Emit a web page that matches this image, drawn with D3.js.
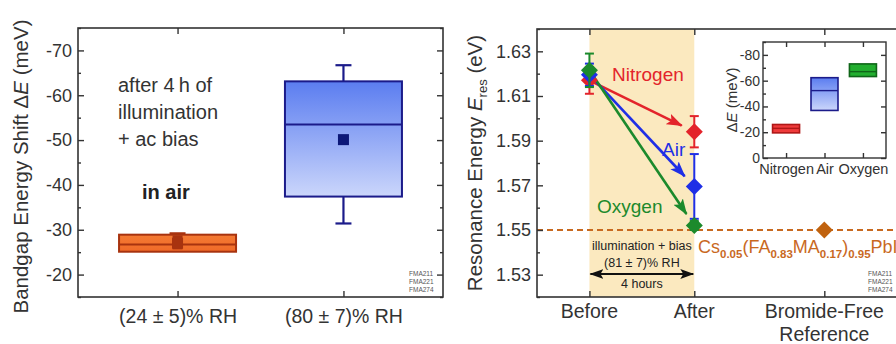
<!DOCTYPE html>
<html>
<head>
<meta charset="utf-8">
<script src="https://cdn.jsdelivr.net/npm/d3@7"></script>
<style>
  body { margin: 0; background: #fff; }
  svg { display: block; font-family: "Liberation Sans", Arial, sans-serif; }
</style>
</head>
<body>
<svg width="896" height="344"></svg>
<script>
// ---- left panel: bandgap shift box plots (meV)
const humidity = ["(24 ± 5)% RH", "(80 ± 7)% RH"];
const boxLow = [-25.1, -37.4];
const boxHigh = [-28.9, -63.1];
const boxMedian = [-26.7, -53.5];
const boxMean = [-27.0, -50.1];
const whiskLow = [-25.4, -31.4];
const whiskHigh = [-29.2, -66.7];
const leftTicks = [-70, -60, -50, -40, -30, -20];
const leftMinor = [-75, -65, -55, -45, -35, -25, -15];

// ---- right panel: resonance energy (eV)
const gases = ["Nitrogen", "Air", "Oxygen"];
const stages = ["Before", "After", "Bromide-Free"];
const stagePos = [1, 2, 3.24];
const eBefore = [1.617, 1.6195, 1.6215];
const errBefore = [0.006, 0.005, 0.0075];
const eAfter = [1.594, 1.5695, 1.552];
const errAfter = [0.007, 0.0145, 0.002];
const refEnergy = 1.550;
const rightTicks = [1.53, 1.55, 1.57, 1.59, 1.61, 1.63];
const rightMinor = [1.52, 1.54, 1.56, 1.58, 1.60, 1.62, 1.64];

// ---- inset: shift per gas (meV)
const insetLow = [-19.5, -36.9, -63.2];
const insetHigh = [-26.0, -62.3, -73.0];
const insetMedian = [-23.0, -52.3, -67.0];
const insetTicks = [0, -20, -40, -60, -80];
const insetMinor = [-10, -30, -50, -70, -90];

const gasColor = ["#e3242b", "#1f2fe6", "#1c8a2c"];
const ink = "#333";
const FONT = "Liberation Sans, Arial, sans-serif";

const svg = d3.select("svg");
const defs = svg.append("defs");

const blueGrad = defs.append("linearGradient").attr("id", "blueGrad")
  .attr("x1", 0).attr("y1", 0).attr("x2", 0).attr("y2", 1);
blueGrad.append("stop").attr("offset", "0%").attr("stop-color", "#5b7df0");
blueGrad.append("stop").attr("offset", "100%").attr("stop-color", "#cbd6fb");

const orangeGrad = defs.append("linearGradient").attr("id", "orangeGrad")
  .attr("x1", 0).attr("y1", 0).attr("x2", 0).attr("y2", 1);
orangeGrad.append("stop").attr("offset", "0%").attr("stop-color", "#f47a33");
orangeGrad.append("stop").attr("offset", "100%").attr("stop-color", "#f06a28");

function arrowMarker(id, color, w, h) {
  defs.append("marker").attr("id", id)
    .attr("markerUnits", "userSpaceOnUse")
    .attr("viewBox", "0 0 14 10")
    .attr("markerWidth", w).attr("markerHeight", h)
    .attr("refX", 13).attr("refY", 5)
    .attr("orient", "auto-start-reverse")
    .append("path").attr("d", "M0,0L14,5L0,10L3,5Z").attr("fill", color);
}
gasColor.forEach((c, i) => arrowMarker("arr" + i, c, 16, 12));
arrowMarker("arrK", "#111", 14, 10);

const diamond = s => `M0,${-s}L${s},0L0,${s}L${-s},0Z`;

// styles an axis group: no domain, our font, inward ticks
function styleAxis(g, size) {
  g.attr("font-family", FONT).attr("font-size", size).attr("color", ink);
  g.select(".domain").remove();
  g.selectAll(".tick line").attr("stroke-width", 1.4);
}

// ================= LEFT PANEL =================
const L = { left: 78, right: 443, top: 28, bottom: 297 };
const xL = d3.scalePoint().domain(humidity).range([L.left, L.right]).padding(0.6);
const yL = d3.scaleLinear().domain([-15, -75]).range([L.bottom, L.top]);

svg.append("g").attr("transform", `translate(${L.left},0)`)
  .call(d3.axisLeft(yL).tickValues(leftTicks).tickSize(-6).tickPadding(6).tickFormat(d => d))
  .call(g => styleAxis(g, 18));
svg.append("g").attr("transform", `translate(${L.left},0)`)
  .call(d3.axisLeft(yL).tickValues(leftMinor).tickSize(-3).tickFormat(""))
  .call(g => styleAxis(g, 18));
svg.append("g").attr("transform", `translate(${L.right},0)`)
  .call(d3.axisRight(yL).tickValues(leftTicks).tickSize(-6).tickFormat(""))
  .call(g => styleAxis(g, 18));
svg.append("g").attr("transform", `translate(${L.right},0)`)
  .call(d3.axisRight(yL).tickValues(leftMinor).tickSize(-3).tickFormat(""))
  .call(g => styleAxis(g, 18));
svg.append("g").attr("transform", `translate(0,${L.bottom})`)
  .call(d3.axisBottom(xL).tickSize(-6).tickPadding(12))
  .call(g => styleAxis(g, 19.5));
svg.append("g").attr("transform", `translate(0,${L.top})`)
  .call(d3.axisTop(xL).tickSize(-6).tickFormat(""))
  .call(g => styleAxis(g, 18));

svg.append("rect")
  .attr("x", L.left).attr("y", L.top)
  .attr("width", L.right - L.left).attr("height", L.bottom - L.top)
  .attr("fill", "none").attr("stroke", ink).attr("stroke-width", 1.6);

const boxStroke = ["#a8330f", "#1b1b8a"];
const boxFill = ["url(#orangeGrad)", "url(#blueGrad)"];
const boxW = 117;

humidity.forEach((h, i) => {
  const cx = xL(h);
  const g = svg.append("g");
  // whiskers
  g.append("line").attr("x1", cx).attr("x2", cx)
    .attr("y1", yL(whiskLow[i])).attr("y2", yL(boxLow[i]))
    .attr("stroke", boxStroke[i]).attr("stroke-width", 2.2);
  g.append("line").attr("x1", cx).attr("x2", cx)
    .attr("y1", yL(whiskHigh[i])).attr("y2", yL(boxHigh[i]))
    .attr("stroke", boxStroke[i]).attr("stroke-width", 2.2);
  [whiskLow[i], whiskHigh[i]].forEach(v => {
    g.append("line").attr("x1", cx - 8).attr("x2", cx + 8)
      .attr("y1", yL(v)).attr("y2", yL(v))
      .attr("stroke", boxStroke[i]).attr("stroke-width", 2.2);
  });
  g.append("rect")
    .attr("x", cx - boxW / 2).attr("width", boxW)
    .attr("y", yL(boxHigh[i])).attr("height", yL(boxLow[i]) - yL(boxHigh[i]))
    .attr("fill", boxFill[i]).attr("stroke", boxStroke[i]).attr("stroke-width", 2);
  g.append("line")
    .attr("x1", cx - boxW / 2).attr("x2", cx + boxW / 2)
    .attr("y1", yL(boxMedian[i])).attr("y2", yL(boxMedian[i]))
    .attr("stroke", boxStroke[i]).attr("stroke-width", 2);
  g.append("rect")
    .attr("x", cx - 5.5).attr("y", yL(boxMean[i]) - 5.5)
    .attr("width", 11).attr("height", 11)
    .attr("fill", i === 0 ? "#a8330f" : "#0c1878");
});
// orange mean marker is drawn taller in the original (covers whisker)
svg.append("rect")
  .attr("x", xL(humidity[0]) - 5).attr("y", yL(whiskHigh[0]) + 2)
  .attr("width", 10).attr("height", yL(whiskLow[0]) - yL(whiskHigh[0]) - 3)
  .attr("fill", "#a8330f");

svg.append("text")
  .attr("transform", `translate(28,${(L.top + L.bottom) / 2 + 4}) rotate(-90)`)
  .attr("text-anchor", "middle").attr("font-size", 20.5).attr("fill", ink)
  .call(t => {
    t.append("tspan").text("Bandgap Energy Shift \u0394");
    t.append("tspan").attr("font-style", "italic").text("E");
    t.append("tspan").text(" (meV)");
  });

const note = ["after 4\u2009h of", "illumination", "+ ac bias"];
svg.append("g").selectAll("text").data(note).join("text")
  .attr("x", 118).attr("y", (d, i) => 92 + i * 27)
  .attr("font-size", 20).attr("fill", ink).text(d => d);
svg.append("text").attr("x", 142).attr("y", 199)
  .attr("font-size", 20).attr("font-weight", "bold").attr("fill", "#222").text("in air");

const samples = ["FMA211", "FMA221", "FMA274"];
[409, 868].forEach(x => {
  svg.append("g").selectAll("text").data(samples).join("text")
    .attr("x", x).attr("y", (d, i) => 276 + i * 8)
    .attr("font-size", 6.5).attr("fill", "#555").text(d => d);
});

// ================= RIGHT PANEL =================
const R = { left: 537, right: 904, top: 29, bottom: 297 };
const xR = d3.scaleLinear().domain([0.5, 4]).range([R.left, R.right]);
const yR = d3.scaleLinear().domain([1.52, 1.64]).range([R.bottom, R.top]);

// shaded treatment window
svg.append("rect")
  .attr("x", xR(stagePos[0])).attr("width", xR(stagePos[1]) - xR(stagePos[0]))
  .attr("y", R.top).attr("height", R.bottom - R.top)
  .attr("fill", "#fbe9bf");

// bromide-free reference line
svg.append("line")
  .attr("x1", R.left).attr("x2", R.right)
  .attr("y1", yR(refEnergy)).attr("y2", yR(refEnergy))
  .attr("stroke", "#c8691f").attr("stroke-width", 2).attr("stroke-dasharray", "6,4");

svg.append("g").attr("transform", `translate(${R.left},0)`)
  .call(d3.axisLeft(yR).tickValues(rightTicks).tickSize(-6).tickPadding(6).tickFormat(d3.format(".2f")))
  .call(g => styleAxis(g, 18));
svg.append("g").attr("transform", `translate(${R.left},0)`)
  .call(d3.axisLeft(yR).tickValues(rightMinor).tickSize(-3).tickFormat(""))
  .call(g => styleAxis(g, 18));
svg.append("g").attr("transform", `translate(0,${R.bottom})`)
  .call(d3.axisBottom(xR).tickValues(stagePos).tickSize(-6).tickFormat(""))
  .call(g => styleAxis(g, 18));
svg.append("g").attr("transform", `translate(0,${R.top})`)
  .call(d3.axisTop(xR).tickValues(stagePos).tickSize(-6).tickFormat(""))
  .call(g => styleAxis(g, 18));

svg.append("rect")
  .attr("x", R.left).attr("y", R.top)
  .attr("width", R.right - R.left).attr("height", R.bottom - R.top)
  .attr("fill", "none").attr("stroke", ink).attr("stroke-width", 1.6);

// stage labels
const stageLab = svg.append("g").attr("font-size", 19.5).attr("fill", ink).attr("text-anchor", "middle");
stages.forEach((s, i) => {
  const t = stageLab.append("text").attr("x", xR(stagePos[i])).attr("y", 318);
  if (s === "Bromide-Free") {
    t.append("tspan").text(s);
    t.append("tspan").attr("x", xR(stagePos[i])).attr("dy", 23).text("Reference");
  } else t.text(s);
});

svg.append("text")
  .attr("transform", `translate(482,${(R.top + R.bottom) / 2}) rotate(-90)`)
  .attr("text-anchor", "middle").attr("font-size", 20.5).attr("fill", ink)
  .call(t => {
    t.append("tspan").text("Resonance Energy ");
    t.append("tspan").attr("font-style", "italic").text("E");
    t.append("tspan").attr("font-size", 13).attr("dy", 5).text("res");
    t.append("tspan").attr("dy", -5).text(" (eV)");
  });

// arrows between before and after
gases.forEach((g, i) => {
  const x1 = xR(stagePos[0]), y1 = yR(eBefore[i]);
  const x2 = xR(stagePos[1]), y2 = yR(eAfter[i]);
  const len = Math.hypot(x2 - x1, y2 - y1);
  const ux = (x2 - x1) / len, uy = (y2 - y1) / len;
  svg.append("line")
    .attr("x1", x1 + ux * 5).attr("y1", y1 + uy * 5)
    .attr("x2", x2 - ux * 14).attr("y2", y2 - uy * 14)
    .attr("stroke", gasColor[i]).attr("stroke-width", 2.6)
    .attr("marker-end", `url(#arr${i})`);
});

// error bars and diamonds
function point(x, v, err, color) {
  const g = svg.append("g");
  if (err > 0) {
    g.append("line").attr("x1", x).attr("x2", x)
      .attr("y1", yR(v - err)).attr("y2", yR(v + err))
      .attr("stroke", color).attr("stroke-width", 2);
    [v - err, v + err].forEach(e => {
      g.append("line").attr("x1", x - 4.5).attr("x2", x + 4.5)
        .attr("y1", yR(e)).attr("y2", yR(e))
        .attr("stroke", color).attr("stroke-width", 2);
    });
  }
  g.append("path").attr("d", diamond(8.5))
    .attr("transform", `translate(${x},${yR(v)})`).attr("fill", color);
}
gases.forEach((g, i) => point(xR(stagePos[0]), eBefore[i], errBefore[i], gasColor[i]));
gases.forEach((g, i) => point(xR(stagePos[1]), eAfter[i], errAfter[i], gasColor[i]));
point(xR(stagePos[2]), refEnergy, 0, "#c0620e");

// gas labels
const gasLabelPos = [[612, 81], [662, 156], [597, 213]];
gases.forEach((g, i) => {
  svg.append("text").attr("x", gasLabelPos[i][0]).attr("y", gasLabelPos[i][1])
    .attr("font-size", 19).attr("fill", gasColor[i]).text(g);
});

// treatment annotation
const midX = (xR(stagePos[0]) + xR(stagePos[1])) / 2;
svg.append("g").attr("font-size", 12.5).attr("fill", "#222").attr("text-anchor", "middle")
  .selectAll("text").data([["illumination + bias", 250], ["(81 \u00b1 7)% RH", 267], ["4 hours", 288]])
  .join("text").attr("x", midX).attr("y", d => d[1]).text(d => d[0]);
svg.append("line")
  .attr("x1", xR(stagePos[0]) + 1).attr("x2", xR(stagePos[1]) - 1)
  .attr("y1", 274).attr("y2", 274)
  .attr("stroke", "#111").attr("stroke-width", 1.8)
  .attr("marker-start", "url(#arrK)").attr("marker-end", "url(#arrK)");

// reference composition (runs off the right edge, as in the original)
svg.append("text").attr("x", 698).attr("y", 253)
  .attr("font-size", 18).attr("fill", "#c9691f")
  .call(t => {
    const parts = [["Cs", 0], ["0.05", 1], ["(FA", 0], ["0.83", 1], ["MA", 0], ["0.17", 1], [")", 0], ["0.95", 1], ["PbI", 0], ["3", 1]];
    let sub = false;
    parts.forEach(([s, isSub]) => {
      const sp = t.append("tspan").text(s);
      if (isSub) sp.attr("font-size", 11.5).attr("font-weight", "bold");
      if (isSub && !sub) sp.attr("dy", 5);
      if (!isSub && sub) sp.attr("dy", -5);
      sub = !!isSub;
    });
  });

// ================= INSET =================
const I = { left: 763, right: 886, top: 42, bottom: 158 };
const xI = d3.scalePoint().domain(gases).range([I.left, I.right]).padding(0.6);
const yI = d3.scaleLinear().domain([0, -90]).range([I.bottom, I.top]);

svg.append("rect")
  .attr("x", I.left).attr("y", I.top)
  .attr("width", I.right - I.left).attr("height", I.bottom - I.top)
  .attr("fill", "#fff");

svg.append("g").attr("transform", `translate(${I.left},0)`)
  .call(d3.axisLeft(yI).tickValues(insetTicks).tickSize(-5).tickPadding(3).tickFormat(d => d))
  .call(g => styleAxis(g, 14));
svg.append("g").attr("transform", `translate(${I.left},0)`)
  .call(d3.axisLeft(yI).tickValues(insetMinor).tickSize(-3).tickFormat(""))
  .call(g => styleAxis(g, 14));
svg.append("g").attr("transform", `translate(${I.right},0)`)
  .call(d3.axisRight(yI).tickValues(insetTicks).tickSize(-5).tickFormat(""))
  .call(g => styleAxis(g, 14));
svg.append("g").attr("transform", `translate(0,${I.bottom})`)
  .call(d3.axisBottom(xI).tickSize(-5).tickPadding(6))
  .call(g => styleAxis(g, 14.5));
svg.append("g").attr("transform", `translate(0,${I.top})`)
  .call(d3.axisTop(xI).tickSize(-5).tickFormat(""))
  .call(g => styleAxis(g, 14));

svg.append("rect")
  .attr("x", I.left).attr("y", I.top)
  .attr("width", I.right - I.left).attr("height", I.bottom - I.top)
  .attr("fill", "none").attr("stroke", ink).attr("stroke-width", 1.4);

const insetFill = ["#ef3b3b", "url(#blueGrad)", "#22ae2f"];
const insetStroke = ["#b01717", "#1b1b8a", "#0f6518"];
gases.forEach((g, i) => {
  const cx = xI(g);
  svg.append("rect")
    .attr("x", cx - 13.5).attr("width", 27)
    .attr("y", yI(insetHigh[i])).attr("height", yI(insetLow[i]) - yI(insetHigh[i]))
    .attr("fill", insetFill[i]).attr("stroke", insetStroke[i]).attr("stroke-width", 1.6);
  svg.append("line")
    .attr("x1", cx - 13.5).attr("x2", cx + 13.5)
    .attr("y1", yI(insetMedian[i])).attr("y2", yI(insetMedian[i]))
    .attr("stroke", insetStroke[i]).attr("stroke-width", 1.4);
});

svg.append("text")
  .attr("transform", `translate(737,${(I.top + I.bottom) / 2}) rotate(-90)`)
  .attr("text-anchor", "middle").attr("font-size", 15).attr("fill", ink)
  .call(t => {
    t.append("tspan").text("\u0394");
    t.append("tspan").attr("font-style", "italic").text("E");
    t.append("tspan").text(" (meV)");
  });
</script>
</body>
</html>
